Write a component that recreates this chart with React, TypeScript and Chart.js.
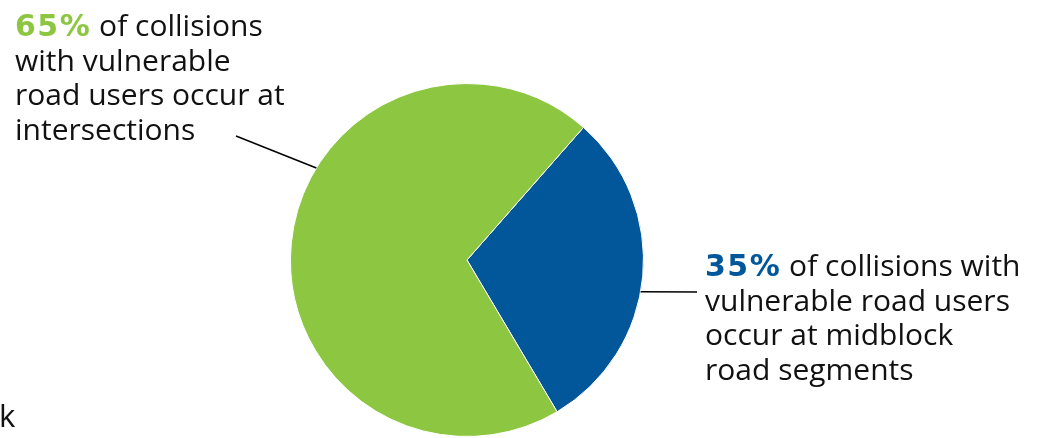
import React, { useEffect, useRef } from "react";
import { Chart, registerables } from "chart.js";

Chart.register(...registerables);

// Data
const categories = ["Midblock road segments", "Intersections"];
const sliceValues = [30, 70]; // slice sizes as drawn
const sliceColors = ["#02579B", "#8DC741"];
const startAngle = 41.3;

const leftHeadline = "65%";
const leftLines = [" of collisions", "with vulnerable", "road users occur at", "intersections"];
const rightHeadline = "35%";
const rightLines = [" of collisions with", "vulnerable road users", "occur at midblock", "road segments"];
const strayText = "k";

// leader lines: angle on the pie (deg, clockwise from top) -> label anchor
const leaders = [
  { slice: 1, angle: 301.4, to: [236, 136] },
  { slice: 0, angle: 100.4, to: [697, 292] },
];

const leaderPlugin = {
  id: "leaders",
  afterDatasetsDraw(chart: any) {
    const meta = chart.getDatasetMeta(0);
    const ctx = chart.ctx;
    ctx.save();
    ctx.strokeStyle = "#000";
    ctx.lineWidth = 1.5;
    leaders.forEach((l) => {
      const arc = meta.data[l.slice];
      const a = ((l.angle - 90) * Math.PI) / 180;
      const r = arc.outerRadius;
      ctx.beginPath();
      ctx.moveTo(arc.x + r * Math.cos(a), arc.y + r * Math.sin(a));
      ctx.lineTo(l.to[0], l.to[1]);
      ctx.stroke();
    });
    ctx.restore();
  },
};

const textFont = "'Open Sans', sans-serif";
const boldFont = "'DejaVu Sans', sans-serif";
const LH = 34.5;

function Label({ left, top, head, color, lines }: any) {
  return (
    <div style={{ position: "absolute", left, top, fontFamily: textFont, fontSize: 30, color: "#111", whiteSpace: "pre" }}>
      {lines.map((ln: string, i: number) => (
        <div key={i} style={{ height: LH, lineHeight: LH + "px" }}>
          {i === 0 ? (
            <span style={{ fontFamily: boldFont, fontWeight: 700, fontSize: 30, letterSpacing: 1.5, color, lineHeight: LH + "px" }}>{head}</span>
          ) : null}
          {ln}
        </div>
      ))}
    </div>
  );
}

export default function App() {
  const ref = useRef<HTMLCanvasElement>(null);
  useEffect(() => {
    const chart = new Chart(ref.current as HTMLCanvasElement, {
      type: "pie",
      data: {
        labels: categories,
        datasets: [
          {
            data: sliceValues,
            backgroundColor: sliceColors,
            borderColor: "#ffffff",
            borderWidth: 1,
          },
        ],
      },
      options: {
        responsive: false,
        animation: false,
        rotation: startAngle,
        layout: { padding: { left: 290, right: 413, top: 83, bottom: 1 } },
        plugins: { legend: { display: false }, tooltip: { enabled: false } },
      },
      plugins: [leaderPlugin],
    });
    return () => chart.destroy();
  }, []);
  return (
    <div style={{ position: "fixed", left: 0, top: 0, width: 1057, height: 438, background: "#fff", overflow: "hidden" }}>
      <canvas ref={ref} width={1057} height={438} style={{ position: "absolute", left: 0, top: 0 }} />
      <Label left={15} top={8} head={leftHeadline} color="#8DC741" lines={leftLines} />
      <Label left={705} top={248} head={rightHeadline} color="#02579B" lines={rightLines} />
      <div style={{ position: "absolute", left: -1, top: 394, fontFamily: textFont, fontSize: 31, color: "#111" }}>{strayText}</div>
    </div>
  );
}
